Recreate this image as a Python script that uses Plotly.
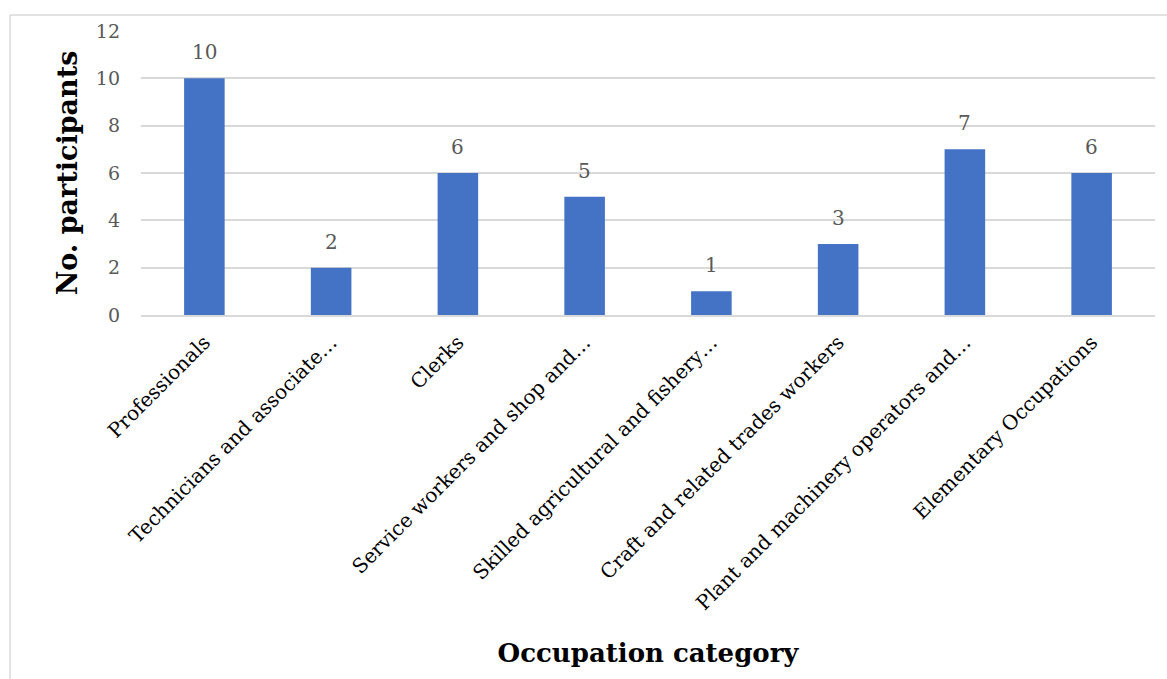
import plotly.graph_objects as go

categories = [
    "Professionals",
    "Technicians and associate…",
    "Clerks",
    "Service workers and shop and…",
    "Skilled agricultural and fishery…",
    "Craft and related trades workers",
    "Plant and machinery operators and…",
    "Elementary Occupations",
]
participants = [10, 2, 6, 5, 1, 3, 7, 6]
y_ticks = [0, 2, 4, 6, 8, 10, 12]

FONT = "DejaVu Serif"
W, H = 1167, 679
L, R, T, B = 141, 12, 31, 364
pw, ph = W - L - R, H - T - B

fig = go.Figure()
fig.add_trace(go.Bar(
    x=categories, y=participants,
    marker=dict(color="#4472C4", line=dict(width=0)),
    width=0.32,
    showlegend=False,
))

for c, v in zip(categories, participants):
    fig.add_annotation(x=c, y=v, text=str(v), showarrow=False, yanchor="bottom",
                       yshift=12, font=dict(family=FONT, size=20, color="#595959"))

def px_x(p):
    return (p - L) / pw

def px_y(p):
    return (H - B - p) / ph

border = "#d9d9d9"
fig.add_shape(type="line", xref="paper", yref="paper",
              x0=px_x(10), x1=px_x(1167), y0=px_y(15), y1=px_y(15),
              line=dict(color=border, width=1.5))
fig.add_shape(type="line", xref="paper", yref="paper",
              x0=px_x(10), x1=px_x(10), y0=px_y(15), y1=px_y(679),
              line=dict(color=border, width=1.5))

fig.update_layout(
    width=W, height=H,
    margin=dict(l=L, r=R, t=T, b=B, autoexpand=False),
    paper_bgcolor="white", plot_bgcolor="white",
    font=dict(family=FONT),
    xaxis=dict(
        tickangle=-45, tickfont=dict(family=FONT, size=20, color="#000000"),
        showline=True, linecolor="#d9d9d9", linewidth=1.5,
        showgrid=False, ticks="", automargin=False, ticklabelstandoff=6,
        title=dict(text="<b>Occupation category</b>", standoff=30,
                   font=dict(family=FONT, size=26, color="#000000")),
    ),
    yaxis=dict(
        range=[0, 12], tickvals=y_ticks, ticktext=[str(t) for t in y_ticks],
        tickfont=dict(family=FONT, size=19, color="#595959"),
        showgrid=True, gridcolor="#d9d9d9", gridwidth=1.5,
        zeroline=False, showline=False, ticks="", ticklabelstandoff=20,
        automargin=False,
        title=dict(text="<b>No. participants</b>", standoff=10,
                   font=dict(family=FONT, size=27, color="#000000")),
    ),
    bargap=0.68,
)

fig.write_html("out.html")
